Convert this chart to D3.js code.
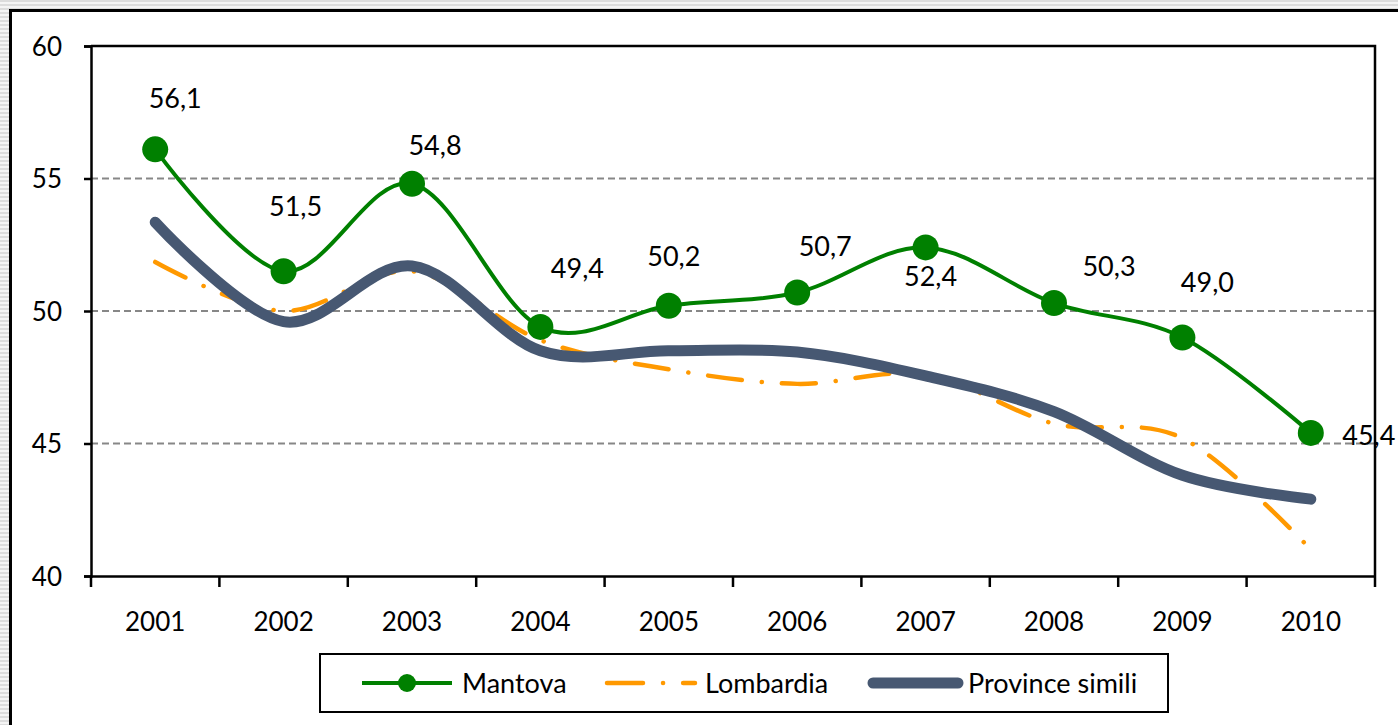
<!DOCTYPE html>
<html>
<head>
<meta charset="utf-8">
<script src="https://cdn.jsdelivr.net/npm/d3@7"></script>
<style>
  body { margin: 0; background: #fff; }
  svg { display: block; font-family: Lato, "Open Sans", sans-serif; }
</style>
</head>
<body>
<script>
// data
var years = ["2001", "2002", "2003", "2004", "2005", "2006", "2007", "2008", "2009", "2010"];
var mantova = [56.1, 51.5, 54.8, 49.4, 50.2, 50.7, 52.4, 50.3, 49.0, 45.4];
var lombardia = [51.85, 50.0, 51.5, 48.9, 47.8, 47.25, 47.6, 45.75, 45.2, 41.0];
var provinceSimili = [53.35, 49.6, 51.7, 48.5, 48.5, 48.45, 47.55, 46.2, 43.8, 42.9];
var yTicks = [40, 45, 50, 55, 60];
var seriesNames = ["Mantova", "Lombardia", "Province simili"];

// where each Mantova value label sits, relative to its point (placed by hand in the original)
var labelOffsets = [[20, -51], [12, -65], [23, -39], [37, -59], [5, -49],
                    [28, -46], [5, 29], [55, -37], [25, -55], [58, 2]];

var svgWidth = 1398;
var svgHeight = 725;

var margin = { top: 46, right: 23, bottom: 149, left: 91 };
var chartWidth = svgWidth - margin.left - margin.right;
var chartHeight = svgHeight - margin.top - margin.bottom;

var svg = d3.select("body")
  .append("svg")
  .attr("width", svgWidth)
  .attr("height", svgHeight);

// striped grey border outside the chart frame
var defs = svg.append("defs");
var pat = defs.append("pattern")
  .attr("id", "stripes")
  .attr("width", 4).attr("height", 4)
  .attr("patternUnits", "userSpaceOnUse");
pat.append("rect").attr("width", 4).attr("height", 4).attr("fill", "#f4f4f4");
pat.append("rect").attr("width", 4).attr("height", 2).attr("fill", "#dcdcdc");

svg.append("rect").attr("x", 0).attr("y", 0).attr("width", svgWidth).attr("height", 9).attr("fill", "url(#stripes)");
svg.append("rect").attr("x", 0).attr("y", 0).attr("width", 9).attr("height", svgHeight).attr("fill", "url(#stripes)");

// chart frame (runs off the right and bottom of the picture)
svg.append("rect")
  .attr("x", 10.5).attr("y", 10.5)
  .attr("width", svgWidth + 20).attr("height", svgHeight + 20)
  .attr("fill", "#fff")
  .attr("stroke", "#000")
  .attr("stroke-width", 3);

var chartGroup = svg.append("g")
  .attr("transform", `translate(${margin.left}, ${margin.top})`);

var xScale = d3.scaleBand()
  .domain(years)
  .range([0, chartWidth]);

var yScale = d3.scaleLinear()
  .domain([40, 60])
  .range([chartHeight, 0]);

var xc = d => xScale(d) + xScale.bandwidth() / 2;

// dashed gridlines
chartGroup.selectAll(".grid")
  .data(yTicks.filter(t => t > 40 && t < 60))
  .enter().append("line")
  .attr("class", "grid")
  .attr("x1", 0).attr("x2", chartWidth)
  .attr("y1", d => yScale(d)).attr("y2", d => yScale(d))
  .attr("stroke", "#878787")
  .attr("stroke-width", 2)
  .attr("stroke-dasharray", "7,4");

// plot area border (top and right)
chartGroup.append("path")
  .attr("d", `M0,${yScale(60)}H${chartWidth}V${chartHeight}`)
  .attr("fill", "none")
  .attr("stroke", "#000")
  .attr("stroke-width", 2.5);

// axes
var leftAxis = d3.axisLeft(yScale)
  .tickValues(yTicks)
  .tickSize(7)
  .tickPadding(22)
  .tickFormat(d3.format("d"));

var bottomAxis = d3.axisBottom(xScale)
  .tickSize(0)
  .tickPadding(37);

var yAxisG = chartGroup.append("g").call(leftAxis);
var xAxisG = chartGroup.append("g")
  .attr("transform", `translate(0, ${chartHeight})`)
  .call(bottomAxis);

[yAxisG, xAxisG].forEach(function(g) {
  g.select(".domain").attr("stroke", "#000").attr("stroke-width", 2.5);
  g.selectAll(".tick line").attr("stroke", "#000").attr("stroke-width", 2.5);
  g.selectAll("text")
    .attr("fill", "#000")
    .attr("font-size", 26)
    .attr("font-family", "Lato, sans-serif");
});
yAxisG.selectAll("text").attr("dy", "0.36em");

// category boundary ticks on the x axis
xAxisG.selectAll(".sep")
  .data(years.concat(["end"]))
  .enter().append("line")
  .attr("class", "sep")
  .attr("x1", (d, i) => i * xScale.bandwidth())
  .attr("x2", (d, i) => i * xScale.bandwidth())
  .attr("y1", 0).attr("y2", 11)
  .attr("stroke", "#000")
  .attr("stroke-width", 2.5);

// lines, smoothed like the spreadsheet
var line = d3.line()
  .x((d, i) => xc(years[i]))
  .y(d => yScale(d))
  .curve(d3.curveCatmullRom.alpha(0));

chartGroup.append("path")
  .datum(lombardia)
  .attr("d", line)
  .attr("fill", "none")
  .attr("stroke", "#ff9900")
  .attr("stroke-width", 4.5)
  .attr("stroke-linecap", "round")
  .attr("stroke-dasharray", "34,20,0.1,20");

chartGroup.append("path")
  .datum(provinceSimili)
  .attr("d", line)
  .attr("fill", "none")
  .attr("stroke", "#475872")
  .attr("stroke-width", 11)
  .attr("stroke-linecap", "round");

chartGroup.append("path")
  .datum(mantova)
  .attr("d", line)
  .attr("fill", "none")
  .attr("stroke", "#008000")
  .attr("stroke-width", 4);

chartGroup.selectAll(".dot")
  .data(mantova)
  .enter().append("circle")
  .attr("class", "dot")
  .attr("cx", (d, i) => xc(years[i]))
  .attr("cy", d => yScale(d))
  .attr("r", 13)
  .attr("fill", "#008000");

var itFormat = d3.formatLocale({ decimal: ",", thousands: ".", grouping: [3], currency: ["€", ""] }).format(".1f");

chartGroup.selectAll(".valueLabel")
  .data(mantova)
  .enter().append("text")
  .attr("class", "valueLabel")
  .attr("x", (d, i) => xc(years[i]) + labelOffsets[i][0])
  .attr("y", (d, i) => yScale(d) + labelOffsets[i][1])
  .attr("dy", "0.36em")
  .attr("text-anchor", "middle")
  .attr("font-size", 27)
  .attr("fill", "#000")
  .text(d => itFormat(d));

// legend
var legend = svg.append("g").attr("transform", "translate(320, 654)");
legend.append("rect")
  .attr("width", 848).attr("height", 58)
  .attr("fill", "#fff")
  .attr("stroke", "#000")
  .attr("stroke-width", 2);

var legX = [42, 285, 548];
var ly = 29;

seriesNames.forEach(function(name, i) {
  var g = legend.append("g").attr("transform", `translate(${legX[i]}, ${ly})`);
  if (i === 0) {
    g.append("line").attr("x1", 0).attr("x2", 90).attr("stroke", "#008000").attr("stroke-width", 4);
    g.append("circle").attr("cx", 45).attr("r", 9).attr("fill", "#008000");
  } else if (i === 1) {
    g.append("line").attr("x1", 2).attr("x2", 90).attr("stroke", "#ff9900").attr("stroke-width", 4.5)
      .attr("stroke-linecap", "round").attr("stroke-dasharray", "36,20,0.1,20");
  } else {
    g.append("line").attr("x1", 5).attr("x2", 90).attr("stroke", "#475872").attr("stroke-width", 11)
      .attr("stroke-linecap", "round");
  }
  g.append("text")
    .attr("x", 100)
    .attr("dy", "0.36em")
    .attr("font-size", 27)
    .attr("fill", "#000")
    .text(name);
});
</script>
</body>
</html>
